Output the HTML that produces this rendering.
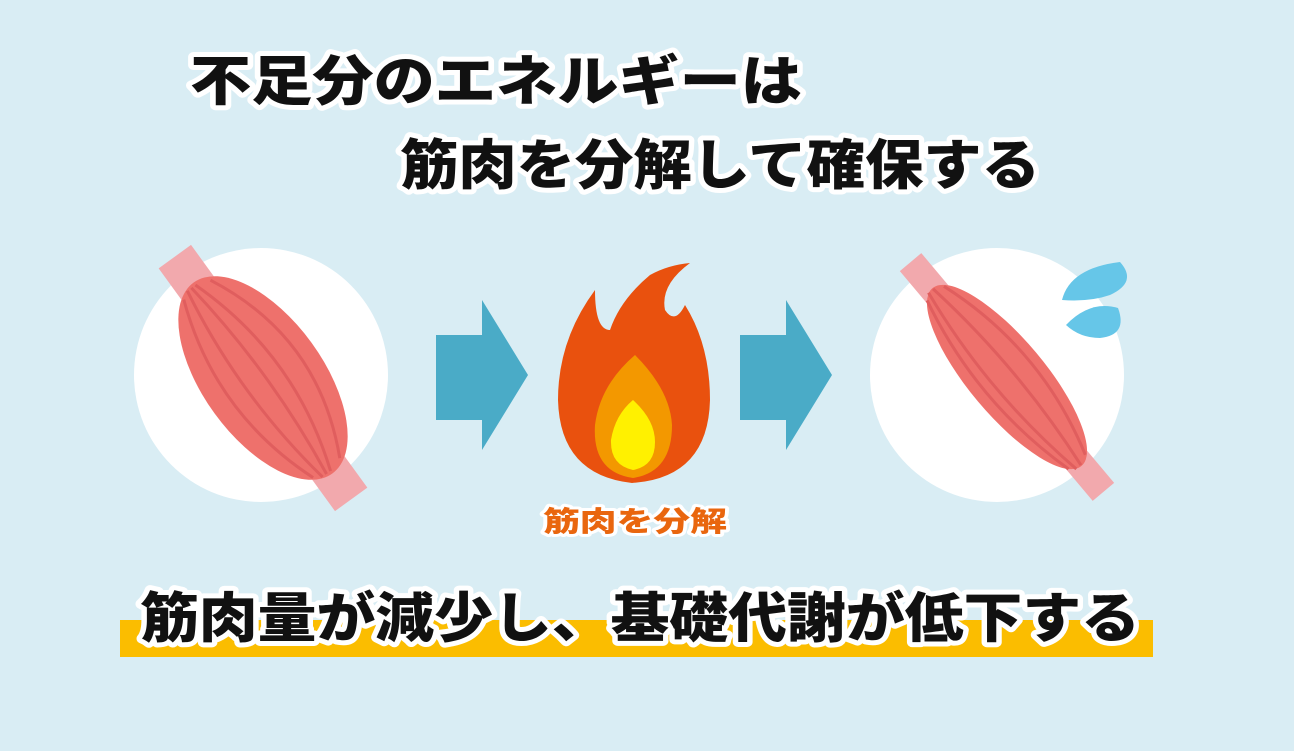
<!DOCTYPE html>
<html><head><meta charset="utf-8"><style>
html,body{margin:0;padding:0;background:#d9edf4;}
svg{display:block}
text{font-family:"Liberation Sans","Noto Sans CJK JP",sans-serif;font-weight:900;paint-order:stroke;stroke-linejoin:round}
</style></head><body>
<svg width="1294" height="751" viewBox="0 0 1294 751">
<rect width="1294" height="751" fill="#d9edf4"/>
<text x="190" y="100" font-size="54" fill="#111" stroke="#fff" stroke-width="10" textLength="612" lengthAdjust="spacingAndGlyphs">不足分のエネルギーは</text>
<text x="400" y="184" font-size="54" fill="#111" stroke="#fff" stroke-width="10" textLength="640" lengthAdjust="spacingAndGlyphs">筋肉を分解して確保する</text>

<circle cx="261" cy="375" r="127" fill="#fff"/>
<circle cx="997" cy="375" r="127" fill="#fff"/>

<g transform="translate(263,378) rotate(54)">
 <rect x="-150" y="-20" width="50" height="40" fill="#f2a9ad"/>
 <rect x="100" y="-20" width="50" height="40" fill="#f2a9ad"/>
 <ellipse cx="0" cy="0" rx="118" ry="60" fill="#ee716c"/>
 <g stroke="#e05e5e" stroke-width="3" fill="none">
  <path d="M-110,-15 Q0,-70 110,-15"/><path d="M-115,0 Q0,-40 115,0"/>
  <path d="M-115,5 Q0,-10 115,5"/><path d="M-115,10 Q0,30 115,10"/>
  <path d="M-110,18 Q0,60 110,18"/>
 </g>
</g>
<g transform="translate(1007,377) rotate(50)">
 <rect x="-150" y="-14" width="50" height="28" fill="#f2a9ad"/>
 <rect x="100" y="-14" width="50" height="28" fill="#f2a9ad"/>
 <ellipse cx="0" cy="0" rx="116" ry="38" fill="#ee716c"/>
 <g stroke="#e05e5e" stroke-width="3" fill="none">
  <path d="M-110,-10 Q0,-45 110,-10"/><path d="M-115,0 Q0,-15 115,0"/>
  <path d="M-115,6 Q0,25 115,6"/><path d="M-110,12 Q0,40 110,12"/>
 </g>
</g>
<path d="M1062,300 Q1070,268 1120,262 Q1138,282 1110,295 Q1090,302 1062,300Z" fill="#66c6e8"/>
<path d="M1066,325 Q1090,300 1118,308 Q1128,335 1100,338 Q1080,338 1066,325Z" fill="#66c6e8"/>

<polygon points="436,335 482,335 482,300 528,375 482,450 482,420 436,420" fill="#4aabc7"/>
<polygon points="740,335 786,335 786,300 832,375 786,450 786,420 740,420" fill="#4aabc7"/>

<path d="M632,483 Q560,475 558,400 Q558,340 595,290 Q595,330 610,330 Q620,300 650,275 Q668,265 690,263 Q660,285 665,310 Q675,325 685,305 Q710,345 710,400 Q708,478 632,483Z" fill="#e9510e"/>
<path d="M633,478 Q592,472 595,425 Q600,385 635,355 Q670,390 672,425 Q672,472 633,478Z" fill="#f39800"/>
<path d="M633,470 Q610,465 611,440 Q615,415 633,400 Q655,420 655,442 Q655,466 633,470Z" fill="#fff100"/>

<text x="543" y="531" font-size="28" fill="#e9660e" stroke="#fff" stroke-width="6" textLength="184" lengthAdjust="spacingAndGlyphs">筋肉を分解</text>

<rect x="120" y="620" width="1033" height="37" fill="#fbbd00"/>
<text x="140" y="637" font-size="54" fill="#111" stroke="#fff" stroke-width="10" textLength="1000" lengthAdjust="spacingAndGlyphs">筋肉量が減少し、基礎代謝が低下する</text>
</svg>
</body></html>
